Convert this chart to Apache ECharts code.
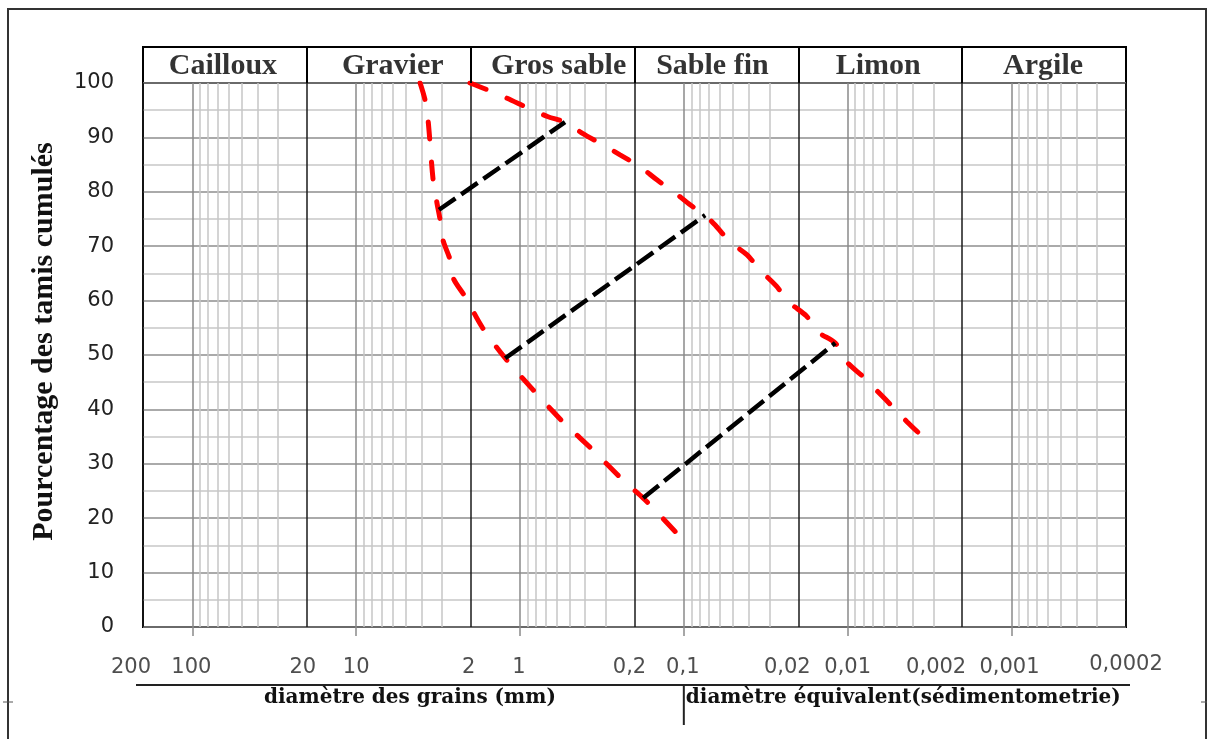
<!DOCTYPE html>
<html><head><meta charset="utf-8">
<script src="https://cdn.jsdelivr.net/npm/echarts@6/dist/echarts.min.js"></script>
<style>html,body{margin:0;padding:0;background:#fff;}#c{width:1207px;height:739px;}</style>
</head><body><div id="c"></div>
<script>
// ---------- data ----------
const xTickValues = [200, 100, 20, 10, 2, 1, 0.2, 0.1, 0.02, 0.01, 0.002, 0.001, 0.0002];
const xTickLabels = ['200', '100', '20', '10', '2', '1', '0,2', '0,1', '0,02', '0,01', '0,002', '0,001', '0,0002'];
const classNames = ['Cailloux', 'Gravier', 'Gros sable', 'Sable fin', 'Limon', 'Argile'];
const classBounds = [200, 20, 2, 0.2, 0.02, 0.002, 0.0002];
const decadeLines = [100, 10, 1, 0.1, 0.01, 0.001];
const minorDigits = [3, 4, 5, 6, 7, 8, 9];
const yTitle = 'Pourcentage des tamis cumulés';
const xTitle1 = 'diamètre des grains (mm)';
const xTitle2 = 'diamètre équivalent(sédimentometrie)';

// grain size (mm), cumulative percentage
const curveFine = [[4.07,100],[3.80,96.9],[3.64,93.2],[3.39,82.2],[3.21,77.9],[3.07,74.8],[2.95,71.1],[2.67,67.5],[2.56,64.2],[2.16,60.7],[1.70,55.1],[1.23,49.4],[0.832,43.6],[0.546,37.7],[0.358,32.5],[0.235,27.0],[0.177,23.7],[0.150,21.5],[0.101,16.0]];
const curveCoarse = [[2.02,100],[1.566,98.7],[1.199,97.2],[0.893,95.4],[0.674,93.8],[0.531,92.8],[0.418,90.8],[0.311,88.6],[0.245,86.8],[0.185,84.6],[0.146,82.2],[0.113,79.8],[0.0915,77.6],[0.0741,75.7],[0.0644,73.9],[0.0522,70.8],[0.0411,68.4],[0.0342,65.6],[0.0273,62.7],[0.0228,59.7],[0.0179,57.2],[0.0151,54.2],[0.0119,52.2],[0.0101,48.7],[0.00804,46.0],[0.00651,43.2],[0.00528,40.4],[0.00433,37.7],[0.00346,34.9]];
const tie1 = [[3.12,76.7],[0.531,92.8]];
const tie2 = [[1.23,49.4],[0.0741,75.7]];
const tie3 = [[0.177,23.7],[0.0119,52.2]];

// ---------- derived structure ----------
const classCenters = classBounds.slice(0, -1).map((b, i) => Math.sqrt(b * classBounds[i + 1]));
const minorLines = [];
decadeLines.forEach(d => minorDigits.forEach(m => minorLines.push(m * d / 10)));

// label style tweaks (pixel offsets only)
const tickLabelOffsets = [[-12,0],[-1,0],[-4,0],[0,0],[-2,0],[-1,0],[-5,0],[-1,0],[-11,0],[0,0],[-26,0],[-2,0],[0,-3]];
const classLabelOffsets = [[-2,1],[4,1],[6,1],[-4,1],[-2,1],[-1,1]];

const X_MIN = 0.0002, X_MAX = 200;
function hiddenLog(gi) {
  return {type:'log', logBase:10, gridIndex:gi, inverse:true, min:X_MIN, max:X_MAX, show:false};
}
function gridLines(values, color, width, z) {
  return {
    type:'line', xAxisIndex:0, yAxisIndex:0, data:[], silent:true, z:z,
    markLine:{silent:true, z:z, precision:12, symbol:['none','none'], animation:false,
      label:{show:false}, emphasis:{disabled:true},
      lineStyle:{color:color, width:width, type:'solid'},
      data: values.map(v => ({xAxis:v}))}
  };
}

const option = {
  animation:false,
  backgroundColor:'#fff',
  grid:[
    {left:143, right:81, top:83, bottom:112, show:true, borderColor:'#000', borderWidth:2, backgroundColor:'rgba(0,0,0,0)', outerBoundsMode:'none', containLabel:false},
    {left:143, right:81, top:47, height:36, show:true, borderColor:'#000', borderWidth:2, backgroundColor:'rgba(0,0,0,0)', outerBoundsMode:'none', containLabel:false},
    {left:143, right:81, top:650, height:36, show:false, outerBoundsMode:'none', containLabel:false}
  ],
  xAxis:[
    {type:'log', logBase:10, gridIndex:0, inverse:true, min:X_MIN, max:X_MAX,
     axisLine:{show:false}, axisLabel:{show:false}, splitLine:{show:false},
     minorTick:{show:false}, minorSplitLine:{show:false},
     axisTick:{show:true, inside:false, length:9, customValues:decadeLines, lineStyle:{color:'#8a8a8a', width:1.5}}},
    hiddenLog(1), hiddenLog(2)
  ],
  yAxis:[
    {type:'value', gridIndex:0, min:0, max:100, interval:10,
     name:yTitle, nameLocation:'middle', nameRotate:90, nameGap:84,
     nameTextStyle:{fontFamily:'Liberation Serif', fontWeight:'bold', fontSize:30, color:'#111', padding:[0,0,0,27]},
     axisLine:{show:false}, axisTick:{show:false},
     axisLabel:{margin:29, fontFamily:'DejaVu Sans', fontSize:21, color:'#222', padding:[0,0,4,0]},
     splitLine:{show:true, lineStyle:{color:'#8e8e8e', width:1.5}},
     minorTick:{show:false, splitNumber:2},
     minorSplitLine:{show:true, lineStyle:{color:'#c8c8c8', width:1.5}}},
    {type:'value', gridIndex:1, min:0, max:1, show:false},
    {type:'value', gridIndex:2, min:0, max:1, show:false}
  ],
  series:[
    gridLines(minorLines, '#c6c6c6', 1.5, 1),
    gridLines(decadeLines, '#8a8a8a', 1.5, 2),
    gridLines(classBounds, '#1a1a1a', 1.5, 3),
    {type:'line', name:'fine', xAxisIndex:0, yAxisIndex:0, data:curveFine, showSymbol:false, symbol:'none', z:10, smooth:0.3,
     lineStyle:{color:'#ff0000', width:5, type:[17,23], cap:'round'}},
    {type:'line', name:'coarse', xAxisIndex:0, yAxisIndex:0, data:curveCoarse, showSymbol:false, symbol:'none', z:10, smooth:0.3,
     lineStyle:{color:'#ff0000', width:5, type:[17,23], cap:'round'}},
    ...[tie1, tie2, tie3].map(t => ({type:'line', xAxisIndex:0, yAxisIndex:0, data:t, showSymbol:false, symbol:'none', z:11,
     lineStyle:{color:'#000', width:4.5, type:[20,7], cap:'butt'}})),
    {type:'scatter', xAxisIndex:1, yAxisIndex:1, symbolSize:1, itemStyle:{color:'rgba(0,0,0,0)'}, silent:true, z:12,
     data: classCenters.map((c, i) => ({value:[c, 0.5], name:classNames[i], label:{offset:classLabelOffsets[i]}})),
     label:{show:true, position:'inside', formatter:p => p.name, fontFamily:'Liberation Serif', fontWeight:'bold', fontSize:30, color:'#000'},
     markLine:{silent:true, z:12, precision:12, symbol:['none','none'], label:{show:false}, emphasis:{disabled:true},
       lineStyle:{color:'#000', width:2, type:'solid'},
       data: classBounds.slice(1, -1).map(v => ({xAxis:v}))}},
    {type:'scatter', xAxisIndex:2, yAxisIndex:2, symbolSize:1, itemStyle:{color:'rgba(0,0,0,0)'}, silent:true, z:12,
     data: xTickValues.map((v, i) => ({value:[v, 0.5], name:xTickLabels[i], label:{offset:tickLabelOffsets[i]}})),
     label:{show:true, position:'inside', formatter:p => p.name, fontFamily:'DejaVu Sans', fontSize:21, color:'#222'}}
  ]
};

const chart = echarts.init(document.getElementById('c'), null, {renderer:'canvas'});
chart.setOption(option);

const px = v => chart.convertToPixel({xAxisIndex:0}, v);
const xL = px(X_MAX), xR = px(X_MIN), xDiv = px(0.1);
chart.setOption({graphic:[
  {type:'rect', silent:true, shape:{x:8, y:9, width:1198, height:780}, style:{fill:'none', stroke:'#333', lineWidth:2}},
  {type:'line', silent:true, shape:{x1:3, y1:702, x2:13, y2:702}, style:{stroke:'#555', lineWidth:1}},
  {type:'line', silent:true, shape:{x1:1201, y1:702, x2:1207, y2:702}, style:{stroke:'#555', lineWidth:1}},
  {type:'line', silent:true, shape:{x1:xL - 7, y1:685, x2:xR + 4, y2:685}, style:{stroke:'#222', lineWidth:2}},
  {type:'line', silent:true, shape:{x1:xDiv, y1:685, x2:xDiv, y2:725}, style:{stroke:'#222', lineWidth:2}},
  {type:'text', silent:true, x:(xL - 7 + xDiv) / 2, y:698,
   style:{text:xTitle1, align:'center', verticalAlign:'middle', fontFamily:'DejaVu Serif', fontWeight:'bold', fontSize:20, fill:'#111'}},
  {type:'text', silent:true, x:xDiv + 2, y:698,
   style:{text:xTitle2, align:'left', verticalAlign:'middle', fontFamily:'DejaVu Serif', fontWeight:'bold', fontSize:20, fill:'#111'}}
]});
</script>
</body></html>
